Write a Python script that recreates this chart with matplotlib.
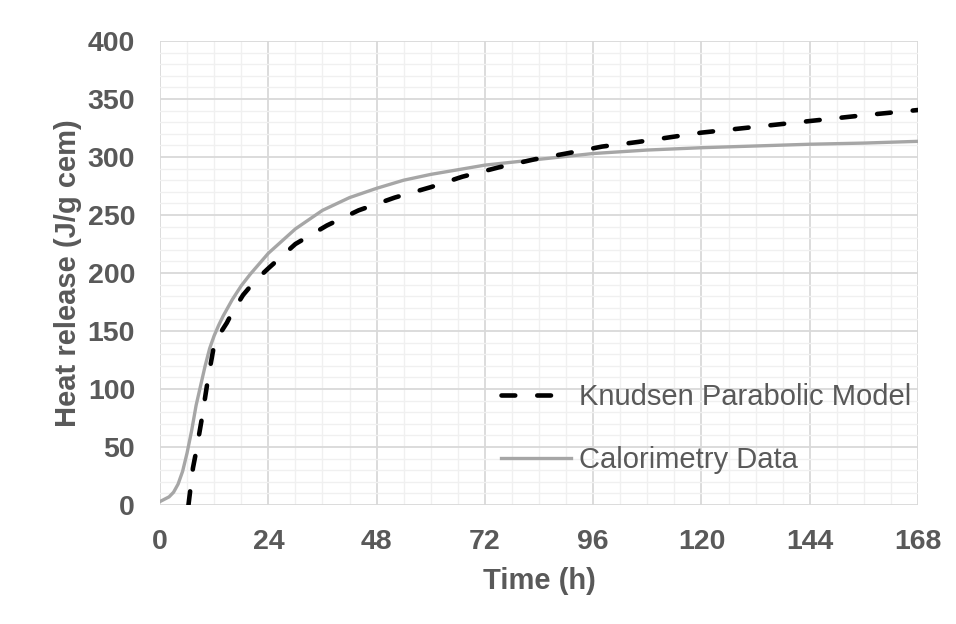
import matplotlib
matplotlib.use("Agg")
import matplotlib.pyplot as plt
from matplotlib.ticker import MultipleLocator

plt.rcParams['font.family'] = ['Liberation Sans', 'DejaVu Sans']

# Calorimetry data
cal_t = [0, 1, 2, 3, 4, 5, 6, 7, 8, 9, 10, 11, 12, 13, 14, 16, 18, 20, 24, 30, 36, 42, 48, 54, 60, 72, 84, 96, 108, 120, 132, 144, 156, 168]
cal_q = [3, 5, 7, 11, 18, 29, 45, 64, 86, 103, 120, 135, 146, 155, 163, 177, 189, 199, 217, 238, 254, 265, 273, 280, 285, 293, 298, 303, 306, 308, 309.5, 311, 312, 313.5]

# Knudsen parabolic model
kn_t = [6.3, 7.3, 8, 9.2, 10.6, 11.8, 13, 14.8, 16, 18.4, 21, 24, 30, 37, 44, 52, 60, 67, 75, 83, 90, 98, 106, 120, 132, 144, 156, 168]
kn_q = [0, 32, 46, 73, 108, 134, 146, 157, 166, 181, 193, 204, 225, 241, 254, 265, 274, 283, 291, 298, 303, 309, 313, 321, 326, 331, 336, 340.5]

xticks = [0, 24, 48, 72, 96, 120, 144, 168]
yticks = [0, 50, 100, 150, 200, 250, 300, 350, 400]

fig = plt.figure(figsize=(9.56, 6.24), dpi=100)
ax = fig.add_axes([0.1674, 0.1907, 0.7929, 0.7436])

ax.set_xlim(0, 168)
ax.set_ylim(0, 400)
ax.set_xticks(xticks)
ax.set_yticks(yticks)
ax.xaxis.set_minor_locator(MultipleLocator(6))
ax.yaxis.set_minor_locator(MultipleLocator(10))
ax.grid(which='major', color='#d9d9d9', linewidth=1.3, zorder=0)
ax.grid(which='minor', color='#f0f0f0', linewidth=1.0, zorder=0)
ax.set_axisbelow(True)
for s in ax.spines.values():
    s.set_visible(False)
ax.tick_params(which='both', length=0)
ax.tick_params(axis='both', labelsize=20.5, labelcolor='#595959')
ax.tick_params(axis='x', pad=17)
ax.tick_params(axis='y', pad=18)
for lbl in ax.get_xticklabels() + ax.get_yticklabels():
    lbl.set_fontweight('bold')

l1, = ax.plot(kn_t, kn_q, color='black', linewidth=3.3, linestyle=(0, (3.0, 4.8)),
              dash_capstyle='round', label='Knudsen Parabolic Model', zorder=3)
l2, = ax.plot(cal_t, cal_q, color='#a6a6a6', linewidth=2.4, label='Calorimetry Data', zorder=2)

ax.set_xlabel('Time (h)', fontsize=21, fontweight='bold', color='#595959', labelpad=9)
ax.set_ylabel('Heat release (J/g cem)', fontsize=21, fontweight='bold', color='#595959', labelpad=4)

leg = ax.legend(handles=[l1, l2], loc='upper left', bbox_to_anchor=(0.524, 0.386),
                bbox_transform=fig.transFigure,
                frameon=False, fontsize=21, labelcolor='#595959', handlelength=2.4,
                handletextpad=0.28, labelspacing=1.2, borderpad=0, borderaxespad=0)

fig.savefig('out.png', dpi=100)
